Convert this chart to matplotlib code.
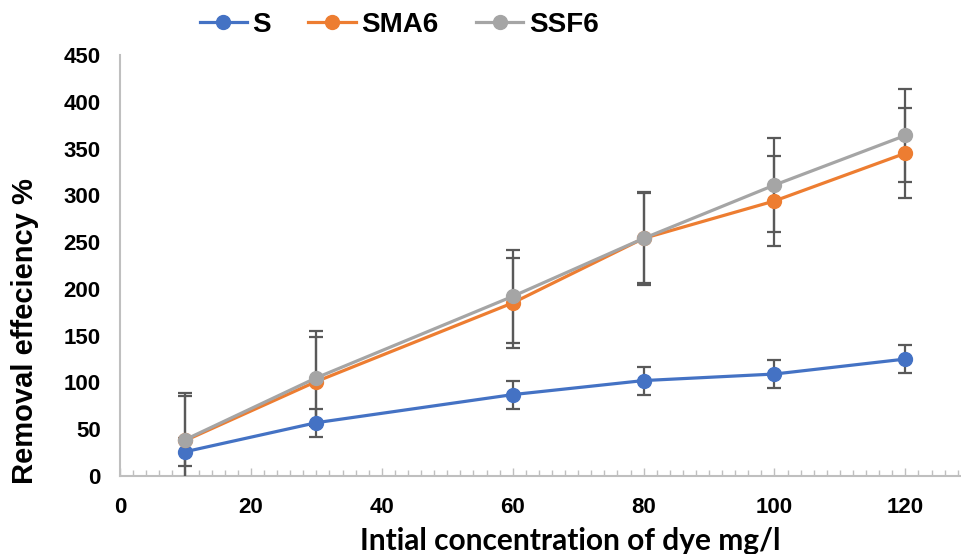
import numpy as np
import matplotlib.pyplot as plt
from matplotlib.ticker import MultipleLocator

# initial dye concentration (mg/l)
conc = [10, 30, 60, 80, 100, 120]

s_vals = [26, 57, 87, 102, 109, 125]
sma6_vals = [38, 101, 185, 254, 294, 345]
ssf6_vals = [39, 105, 192, 254, 311, 364]

s_err = [15, 15, 15, 15, 15, 15]
sma6_err = [48, 48, 48, 48, 48, 48]
ssf6_err = [50, 50, 50, 50, 50, 50]

series = [
    ("S", s_vals, s_err, "#4472C4"),
    ("SMA6", sma6_vals, sma6_err, "#ED7D31"),
    ("SSF6", ssf6_vals, ssf6_err, "#A5A5A5"),
]

plt.rcParams["font.family"] = ["Liberation Sans", "DejaVu Sans"]
plt.rcParams["font.weight"] = "bold"

fig = plt.figure(figsize=(9.61, 5.54), dpi=100)
ax = fig.add_axes([0.1249, 0.1408, 0.8751, 0.7599])

for i, (name, vals, err, col) in enumerate(series):
    ax.errorbar(conc, vals, yerr=err, fmt="none", ecolor="#595959",
                elinewidth=1.6, capsize=5, capthick=1.6, zorder=2 + i)
    ax.plot(conc, vals, color=col, lw=2.3, marker="o", ms=10,
            label=name, zorder=5 + i)

ax.set_xlim(0, 128.5)
ax.set_ylim(0, 450)
ax.xaxis.set_major_locator(MultipleLocator(20))
ax.xaxis.set_minor_locator(MultipleLocator(2))
ax.yaxis.set_major_locator(MultipleLocator(50))

for sp in ["top", "right"]:
    ax.spines[sp].set_visible(False)
for sp in ["left", "bottom"]:
    ax.spines[sp].set_color("#BFBFBF")
    ax.spines[sp].set_linewidth(1.5)

ax.tick_params(axis="x", which="major", direction="in", length=6, width=1,
               color="#BFBFBF", pad=15, labelsize=16)
ax.tick_params(axis="x", which="minor", direction="in", length=4, width=1,
               color="#BFBFBF")
ax.tick_params(axis="y", length=0, pad=14, labelsize=16)
for lbl in ax.get_xticklabels() + ax.get_yticklabels():
    lbl.set_fontweight("bold")

fig.text(25 / 961, 1 - 331 / 554, "Removal effeciency %", rotation=90,
         ha="center", va="center", fontsize=21, fontweight="bold")
fig.text(570 / 961, 1 - 541 / 554, "Intial concentration of dye mg/l",
         ha="center", va="center", fontsize=21.5, fontweight="bold",
         family=["Lato", "DejaVu Sans"])

fig.legend(loc="center", bbox_to_anchor=(399 / 961, 1 - 25 / 554), ncol=3,
           frameon=False, handlelength=1.7, handletextpad=0.2,
           columnspacing=1.35, prop={"weight": "bold", "size": 20})

fig.savefig("out.png", dpi=100)
